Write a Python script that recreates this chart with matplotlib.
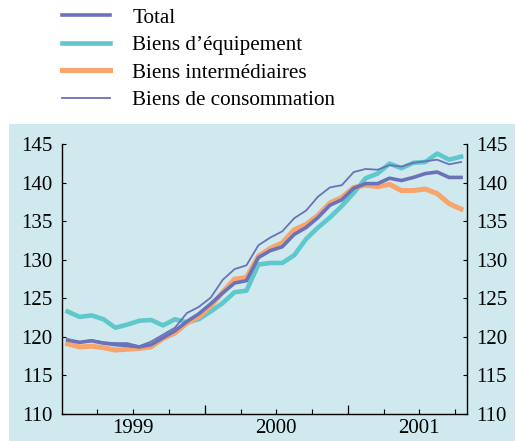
import matplotlib
matplotlib.use("Agg")
import matplotlib.pyplot as plt
from matplotlib.patches import Rectangle

# monthly index values, January 1999 to October 2001
total = [119.6, 119.3, 119.5, 119.2, 119.0, 118.9, 118.7, 119.0, 119.9, 120.8,
         122.0, 123.0, 124.3, 125.7, 127.0, 127.3, 130.3, 131.2, 131.7, 133.3,
         134.2, 135.5, 137.1, 137.8, 139.3, 139.9, 139.9, 140.6, 140.3, 140.7,
         141.2, 141.4, 140.7, 140.7]
equipement = [123.3, 122.6, 122.8, 122.3, 121.2, 121.6, 122.1, 122.2, 121.5, 122.3,
              121.9, 122.3, 123.3, 124.4, 125.8, 126.0, 129.4, 129.6, 129.6, 130.6,
              132.7, 134.2, 135.5, 137.0, 138.7, 140.6, 141.2, 142.5, 141.9, 142.6,
              142.7, 143.8, 143.0, 143.4]
intermediaires = [119.1, 118.7, 118.8, 118.6, 118.3, 118.4, 118.5, 118.7, 119.8, 120.5,
                  121.8, 122.6, 124.0, 125.8, 127.5, 127.7, 130.5, 131.5, 132.2, 133.9,
                  134.6, 135.8, 137.4, 138.1, 139.4, 139.7, 139.5, 139.8, 139.0, 139.0,
                  139.2, 138.6, 137.3, 136.6]
consommation = [119.7, 119.3, 119.6, 119.3, 119.2, 119.2, 118.8, 119.4, 120.3, 121.2,
                123.1, 123.9, 125.1, 127.4, 128.8, 129.3, 131.9, 132.9, 133.7, 135.4,
                136.4, 138.2, 139.4, 139.7, 141.4, 141.8, 141.7, 142.3, 142.1, 142.6,
                142.8, 143.0, 142.4, 142.7]

years = ["1999", "2000", "2001"]
yticks = [110, 115, 120, 125, 130, 135, 140, 145]

plt.rcParams['font.family'] = ['Liberation Serif', 'DejaVu Serif']

fig = plt.figure(figsize=(5.15, 4.41), dpi=100)
bg = "#cfe9ee"
fig.patches.append(Rectangle((9 / 515, 0), 1 - 9 / 515, (441 - 124) / 441,
                             transform=fig.transFigure, facecolor=bg,
                             edgecolor="none", zorder=-10))

ax = fig.add_axes([61.7 / 515, 27 / 441, (467 - 61.7) / 515, (296.7 - 27) / 441])
ax.set_facecolor("none")
ax.set_zorder(1)

x = [i + 0.5 for i in range(len(total))]
blue = "#6a72b8"
ax.plot(x, equipement, color="#5ec8cc", lw=3.3, label="Biens d\u2019\u00e9quipement")
ax.plot(x, intermediaires, color="#f8a46c", lw=3.6, label="Biens interm\u00e9diaires")
ax.plot(x, total, color=blue, lw=2.6, label="Total")
ax.plot(x, consommation, color=blue, lw=1.3, label="Biens de consommation")

ax.set_xlim(0, 34)
ax.set_ylim(110, 145)
ax.spines['top'].set_visible(False)
for s in ['left', 'right', 'bottom']:
    ax.spines[s].set_linewidth(1.0)

major = [3, 6, 9, 15, 18, 21, 27, 30, 33]
labels = ["", years[0], "", "", years[1], "", "", years[2], ""]
ax.set_xticks(major)
ax.set_xticklabels(labels)
ax.set_xticks([12, 24], minor=True)
ax.tick_params(axis='x', which='major', direction='in', length=3.6, width=0.8,
               labelsize=15, pad=3.5)
ax.tick_params(axis='x', which='minor', direction='in', length=6.7, width=0.9)

ax.set_yticks(yticks)
ax.tick_params(axis='y', direction='in', length=2.7, width=0.8, left=True, right=True,
               labelleft=True, labelright=True, labelsize=15, pad=6.8)

handles, labs = ax.get_legend_handles_labels()
order = [2, 0, 1, 3]
fig.legend([handles[i] for i in order], [labs[i] for i in order],
           loc="upper left", bbox_to_anchor=(61.7 / 515, 1 - 8 / 441),
           frameon=False, fontsize=15.2, handlelength=2.3, handletextpad=1.05,
           labelspacing=0.36, borderpad=0, borderaxespad=0)

fig.savefig("out.png", dpi=100)
